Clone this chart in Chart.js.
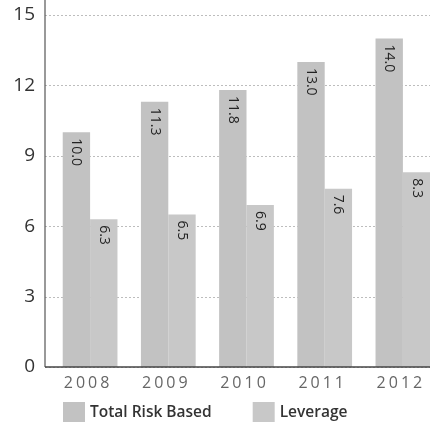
<!DOCTYPE html>
<html>
<head>
<meta charset="utf-8">
<script src="https://cdn.jsdelivr.net/npm/chart.js@4/dist/chart.umd.min.js"></script>
<style>
  html, body { margin: 0; padding: 0; background: #fff; overflow: hidden; }
  #clip { width: 430px; height: 429px; overflow: hidden; position: relative; }
  #wrap { width: 442px; height: 429px; position: absolute; left: 0; top: 0; }
</style>
</head>
<body>
<div id="clip"><div id="wrap"><canvas id="c"></canvas></div></div>
<script>
// Capital ratios by year (%)
const years = ['2008', '2009', '2010', '2011', '2012'];
const totalRiskBased = [10.0, 11.3, 11.8, 13.0, 14.0];
const leverage = [6.3, 6.5, 6.9, 7.6, 8.3];
const yTicks = [0, 3, 6, 9, 12, 15];
const seriesNames = ['Total Risk Based', 'Leverage'];

const FONT = '"Open Sans", "DejaVu Sans", sans-serif';
const AXIS_X = 45;

// Dotted value gridlines and their labels, drawn from the y scale
const valueGrid = {
  id: 'valueGrid',
  beforeDatasetsDraw(chart) {
    const ctx = chart.ctx;
    const area = chart.chartArea;
    const yScale = chart.scales.y;
    ctx.save();
    ctx.strokeStyle = '#bdbdbd';
    ctx.lineWidth = 1;
    ctx.setLineDash([2, 2]);
    yTicks.forEach(v => {
      const py = Math.round(yScale.getPixelForValue(v)) + 0.5;
      ctx.beginPath();
      ctx.moveTo(AXIS_X, py);
      ctx.lineTo(area.right, py);
      ctx.stroke();
    });
    ctx.setLineDash([]);
    ctx.font = '19px ' + FONT;
    ctx.fillStyle = '#333';
    ctx.textAlign = 'right';
    ctx.textBaseline = 'middle';
    yTicks.forEach(v => {
      ctx.fillText(String(v), 35, yScale.getPixelForValue(v));
    });
    ctx.restore();
  }
};

// Values written vertically just inside the top of each bar
const barValueLabels = {
  id: 'barValueLabels',
  afterDatasetsDraw(chart) {
    const ctx = chart.ctx;
    ctx.save();
    ctx.font = '14px ' + FONT;
    ctx.fillStyle = '#222';
    ctx.textAlign = 'left';
    ctx.textBaseline = 'middle';
    chart.data.datasets.forEach((ds, i) => {
      const meta = chart.getDatasetMeta(i);
      meta.data.forEach((bar, j) => {
        ctx.save();
        ctx.translate(bar.x, bar.y + 6);
        ctx.rotate(Math.PI / 2);
        ctx.fillText(ds.data[j].toFixed(1), 0, 0);
        ctx.restore();
      });
    });
    ctx.restore();
  }
};

// Axis lines, spaced-out year labels and the legend row
const frameAndLegend = {
  id: 'frameAndLegend',
  afterDraw(chart) {
    const ctx = chart.ctx;
    const area = chart.chartArea;
    const xScale = chart.scales.x;
    ctx.save();

    ctx.strokeStyle = '#555';
    ctx.lineWidth = 1.2;
    ctx.beginPath();
    ctx.moveTo(AXIS_X, 0);
    ctx.lineTo(AXIS_X, area.bottom);
    ctx.stroke();
    ctx.strokeStyle = '#444';
    ctx.lineWidth = 1.5;
    ctx.beginPath();
    ctx.moveTo(AXIS_X, area.bottom);
    ctx.lineTo(area.right, area.bottom);
    ctx.stroke();

    ctx.font = '16px ' + FONT;
    ctx.fillStyle = '#666';
    ctx.textBaseline = 'middle';
    ctx.textAlign = 'center';
    ctx.letterSpacing = '3px';
    years.forEach((label, i) => {
      ctx.fillText(label, xScale.getPixelForTick(i) - 2, area.bottom + 16);
    });
    ctx.letterSpacing = '0px';

    ctx.font = '600 15.5px ' + FONT;
    ctx.textAlign = 'left';
    let x = 63;
    const y = 402;
    chart.data.datasets.forEach(ds => {
      ctx.fillStyle = ds.backgroundColor;
      ctx.fillRect(x, y, 22, 20);
      ctx.fillStyle = '#333';
      ctx.fillText(ds.label, x + 27, y + 11);
      x += 27 + ctx.measureText(ds.label).width + 41;
    });
    ctx.restore();
  }
};

new Chart(document.getElementById('c'), {
  type: 'bar',
  data: {
    labels: years,
    datasets: [
      { label: seriesNames[0], data: totalRiskBased, backgroundColor: '#c2c2c2' },
      { label: seriesNames[1], data: leverage, backgroundColor: '#c8c8c8' }
    ]
  },
  options: {
    responsive: true,
    maintainAspectRatio: false,
    animation: false,
    devicePixelRatio: 1,
    layout: { padding: { top: 15, right: 0, left: 0, bottom: 0 } },
    datasets: { bar: { categoryPercentage: 0.70, barPercentage: 1.0, borderWidth: 0 } },
    plugins: {
      legend: { display: false },
      tooltip: { enabled: false }
    },
    scales: {
      x: {
        grid: { display: false, drawTicks: false },
        border: { display: false },
        ticks: { display: false },
        afterFit(scale) { scale.height = 62; }
      },
      y: {
        min: 0,
        max: 15,
        afterBuildTicks(scale) { scale.ticks = yTicks.map(v => ({ value: v })); },
        grid: { display: false, drawTicks: false },
        border: { display: false },
        ticks: { display: false },
        afterFit(scale) { scale.width = 51; }
      }
    }
  },
  plugins: [valueGrid, barValueLabels, frameAndLegend]
});
</script>
</body>
</html>
